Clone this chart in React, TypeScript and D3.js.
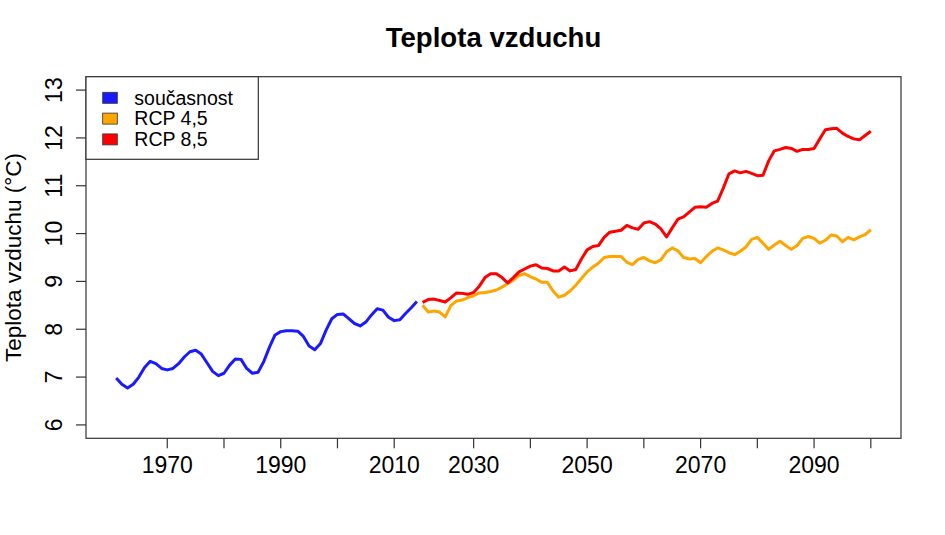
import * as d3 from 'd3'

// observed period (smoothed), 1961-2014
const histYears = d3.range(1961, 2015)
const histTemp = [
  6.98, 6.85, 6.77, 6.85, 7.0, 7.2, 7.33, 7.28, 7.18, 7.15,
  7.18, 7.28, 7.42, 7.53, 7.56, 7.48, 7.3, 7.12, 7.03, 7.08,
  7.25, 7.38, 7.37, 7.18, 7.08, 7.1, 7.32, 7.62, 7.88, 7.95,
  7.97, 7.97, 7.96, 7.85, 7.65, 7.57, 7.7, 7.98, 8.22, 8.31,
  8.32, 8.22, 8.12, 8.07, 8.15, 8.3, 8.43, 8.4, 8.25, 8.18,
  8.2, 8.33, 8.45, 8.58,
]

// scenarios, 2021-2100
const projYears = d3.range(2021, 2101)
const rcp45 = [
  8.5, 8.36, 8.38, 8.36, 8.26, 8.5, 8.59, 8.61, 8.66, 8.7,
  8.76, 8.77, 8.79, 8.82, 8.88, 8.95, 9.03, 9.12, 9.16, 9.1,
  9.05, 8.98, 8.98, 8.8, 8.67, 8.71, 8.8, 8.92, 9.06, 9.2,
  9.3, 9.38, 9.5, 9.52, 9.52, 9.52, 9.4, 9.35, 9.46, 9.5,
  9.43, 9.39, 9.45, 9.62, 9.7, 9.64, 9.5, 9.47, 9.48, 9.39,
  9.52, 9.63, 9.7, 9.66, 9.6, 9.56, 9.63, 9.72, 9.88, 9.92,
  9.8, 9.67, 9.76, 9.84, 9.75, 9.67, 9.75, 9.9, 9.94, 9.9,
  9.8, 9.86, 9.97, 9.95, 9.83, 9.92, 9.87, 9.93, 9.98, 10.08,
]
const rcp85 = [
  8.56, 8.62, 8.63, 8.6, 8.57, 8.66, 8.76, 8.75, 8.73, 8.77,
  8.9, 9.08, 9.16, 9.16, 9.08, 8.97, 9.08, 9.2, 9.26, 9.32,
  9.35, 9.28, 9.27, 9.22, 9.22, 9.3, 9.22, 9.25, 9.47, 9.66,
  9.73, 9.75, 9.92, 10.03, 10.05, 10.07, 10.17, 10.12, 10.09, 10.22,
  10.25, 10.2, 10.1, 9.93, 10.12, 10.3, 10.35, 10.45, 10.55, 10.56,
  10.55, 10.63, 10.68, 10.95, 11.25, 11.31, 11.27, 11.3, 11.26, 11.21,
  11.22, 11.52, 11.73, 11.76, 11.8, 11.78, 11.72, 11.76, 11.76, 11.78,
  11.98, 12.17, 12.19, 12.2, 12.1, 12.03, 11.98, 11.96, 12.05, 12.14,
]

const xTicks = [1970, 1980, 1990, 2000, 2010, 2030, 2040, 2050, 2060, 2070, 2080, 2090, 2100]
const xLabels = [1970, 1990, 2010, 2030, 2050, 2070, 2090]
const yTicks = [6, 7, 8, 9, 10, 11, 12, 13]

const legendItems = [
  { label: 'současnost', color: '#1a1aff' },
  { label: 'RCP 4,5', color: '#ffa500' },
  { label: 'RCP 8,5', color: '#ff0000' },
]

const width = 945
const height = 535
const margin = { top: 76.7, right: 44, bottom: 96.7, left: 86 }
const font = '"Liberation Sans", Arial, sans-serif'

export default function App() {
  const left = margin.left
  const right = width - margin.right
  const top = margin.top
  const bottom = height - margin.bottom

  // series are plotted one after another by index, the years 2015-2020 are skipped
  const nPts = histYears.length + projYears.length
  const pad = (nPts - 1) * 0.04
  const idxScale = d3.scaleLinear().domain([-pad, nPts - 1 + pad]).range([left, right])
  const lastHist = histYears.length - 1
  const xScale = d3.scaleLinear()
    .domain([1961 - pad, 2014, 2021, 2100 + pad])
    .range([-pad, lastHist, lastHist + 1, nPts - 1 + pad].map(idxScale))

  const yScale = d3.scaleLinear().domain([5.72, 13.28]).range([bottom, top])

  const line = d3.line<[number, number]>()
    .x(d => xScale(d[0]))
    .y(d => yScale(d[1]))

  const histPath = line(histYears.map((y, i) => [y, histTemp[i]]))
  const p45 = line(projYears.map((y, i) => [y, rcp45[i]]))
  const p85 = line(projYears.map((y, i) => [y, rcp85[i]]))

  return (
    <svg width={width} height={height} style={{ position: 'absolute', left: 0, top: 0, background: '#fff' }}
      fontFamily={font}>
      <text x={(left + right) / 2} y={47} textAnchor="middle" fontSize={27.6} fontWeight="bold">Teplota vzduchu</text>

      <path d={histPath} fill="none" stroke="#1a1aff" strokeWidth={3} strokeLinejoin="round" />
      <path d={p45} fill="none" stroke="#ffa500" strokeWidth={3} strokeLinejoin="round" />
      <path d={p85} fill="none" stroke="#ff0000" strokeWidth={3} strokeLinejoin="round" />

      <rect x={left} y={top} width={right - left} height={bottom - top} fill="none" stroke="#333" strokeWidth={1.2} />

      {/* x axis */}
      {xTicks.map(t => (
        <g key={t} transform={`translate(${xScale(t)},0)`}>
          <line y1={bottom} y2={bottom + 10} stroke="#333" strokeWidth={1.2} />
          {xLabels.includes(t) && (
            <text y={473} textAnchor="middle" fontSize={23}>{t}</text>
          )}
        </g>
      ))}

      {/* y axis */}
      {yTicks.map(t => (
        <g key={t}>
          <line x1={left - 10} x2={left} y1={yScale(t)} y2={yScale(t)} stroke="#333" strokeWidth={1.2} />
          <text transform={`translate(61.5,${yScale(t)}) rotate(-90)`} textAnchor="middle" fontSize={23}>{t}</text>
        </g>
      ))}
      <text transform={`translate(20.5,${(top + bottom) / 2}) rotate(-90)`} textAnchor="middle" fontSize={22.5}>
        Teplota vzduchu (°C)
      </text>

      {/* legend */}
      <rect x={left} y={top} width={172.3} height={82.6} fill="#fff" stroke="#333" strokeWidth={1.2} />
      {legendItems.map((d, i) => (
        <g key={d.label} transform={`translate(0,${97.8 + i * 20.8})`}>
          <rect x={102.7} y={-5.5} width={14.6} height={11} fill={d.color} stroke="#333" strokeWidth={0.8} />
          <text x={134.3} y={6.8} fontSize={19.5}>{d.label}</text>
        </g>
      ))}
    </svg>
  )
}
